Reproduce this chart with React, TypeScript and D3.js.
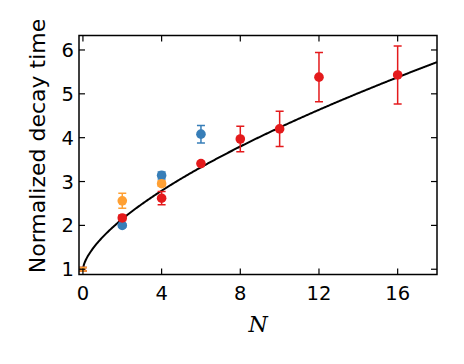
import React from "react";
import * as d3 from "d3";

const W = 464, H = 364;
const margin = { left: 79, right: 27, top: 35.5, bottom: 89.5 };

const xTicks = [0, 4, 8, 12, 16];
const yTicks = [1, 2, 3, 4, 5, 6];

// series: N, value, error
const redN = [0, 2, 4, 6, 8, 10, 12, 16];
const redY = [1.0, 2.17, 2.62, 3.41, 3.97, 4.2, 5.38, 5.43];
const redErr = [0.04, 0.06, 0.15, 0.03, 0.29, 0.4, 0.56, 0.66];

const blueN = [0, 2, 4, 6];
const blueY = [1.0, 2.0, 3.14, 4.08];
const blueErr = [0.04, 0.04, 0.08, 0.2];

const orangeN = [0, 2, 4];
const orangeY = [1.0, 2.56, 2.95];
const orangeErr = [0.04, 0.17, 0.06];

// fitted model curve y = 1 + a * N^b
const fitA = 0.732;
const fitB = 0.645;
const fitN = d3.range(0, 18.01, 0.05);

const series = [
  { n: blueN, y: blueY, e: blueErr, color: "#377eb8" },
  { n: redN, y: redY, e: redErr, color: "#e41a1c" },
  { n: orangeN, y: orangeY, e: orangeErr, color: "#ffa033" },
];

export default function App() {
  const x = d3.scaleLinear().domain([-0.2, 18]).range([margin.left, W - margin.right]);
  const y = d3.scaleLinear().domain([0.88, 6.33]).range([H - margin.bottom, margin.top]);
  const line = d3
    .line<number>()
    .x((n) => x(n))
    .y((n) => y(1 + fitA * Math.pow(n, fitB)));
  const [x0, x1] = x.range();
  const [y0, y1] = y.range();
  const tl = 6;
  const font = "DejaVu Sans, sans-serif";
  return (
    <svg width={W} height={H} style={{ position: "absolute", left: 0, top: 0 }}>
      <defs>
        <clipPath id="plot">
          <rect x={x0} y={y1} width={x1 - x0} height={y0 - y1} />
        </clipPath>
      </defs>
      <g clipPath="url(#plot)">
        <path d={line(fitN) || ""} fill="none" stroke="#000" strokeWidth={2} />
        {series.map((s, si) => (
          <g key={si}>
            {s.n.map((n, i) => {
              const cx = x(n);
              const yt = y(s.y[i] + s.e[i]);
              const yb = y(s.y[i] - s.e[i]);
              return (
                <g key={i} stroke={s.color} strokeWidth={1.5}>
                  <line x1={cx} x2={cx} y1={yt} y2={yb} />
                  <line x1={cx - 4} x2={cx + 4} y1={yt} y2={yt} />
                  <line x1={cx - 4} x2={cx + 4} y1={yb} y2={yb} />
                  <circle cx={cx} cy={y(s.y[i])} r={n === 0 ? 2.5 : 4.8} fill={s.color} stroke="none" />
                </g>
              );
            })}
          </g>
        ))}
      </g>
      {/* ticks */}
      <g stroke="#000" strokeWidth={1.2}>
        {xTicks.map((t) => (
          <g key={"xt" + t}>
            <line x1={x(t)} x2={x(t)} y1={y0} y2={y0 - tl} />
            <line x1={x(t)} x2={x(t)} y1={y1} y2={y1 + tl} />
          </g>
        ))}
        {yTicks.map((t) => (
          <g key={"yt" + t}>
            <line x1={x0} x2={x0 + tl} y1={y(t)} y2={y(t)} />
            <line x1={x1} x2={x1 - tl} y1={y(t)} y2={y(t)} />
          </g>
        ))}
      </g>
      <rect x={x0} y={y1} width={x1 - x0} height={y0 - y1} fill="none" stroke="#000" strokeWidth={1.5} />
      {xTicks.map((t) => (
        <text key={"xl" + t} x={x(t)} y={300} textAnchor="middle" fontFamily={font} fontSize={19.5} fill="#000">
          {t}
        </text>
      ))}
      {yTicks.map((t) => (
        <text key={"yl" + t} x={74} y={y(t) + 7} textAnchor="end" fontFamily={font} fontSize={19.5} fill="#000">
          {t}
        </text>
      ))}
      <text
        transform={`translate(${45},${146}) rotate(-90)`}
        textAnchor="middle"
        fontFamily={font}
        fontSize={22}
        fill="#000"
      >
        Normalized decay time
      </text>
      <text x={258} y={331.5} textAnchor="middle" fontFamily="DejaVu Serif, serif" fontStyle="italic" fontSize={22} fill="#000">
        N
      </text>
    </svg>
  );
}
